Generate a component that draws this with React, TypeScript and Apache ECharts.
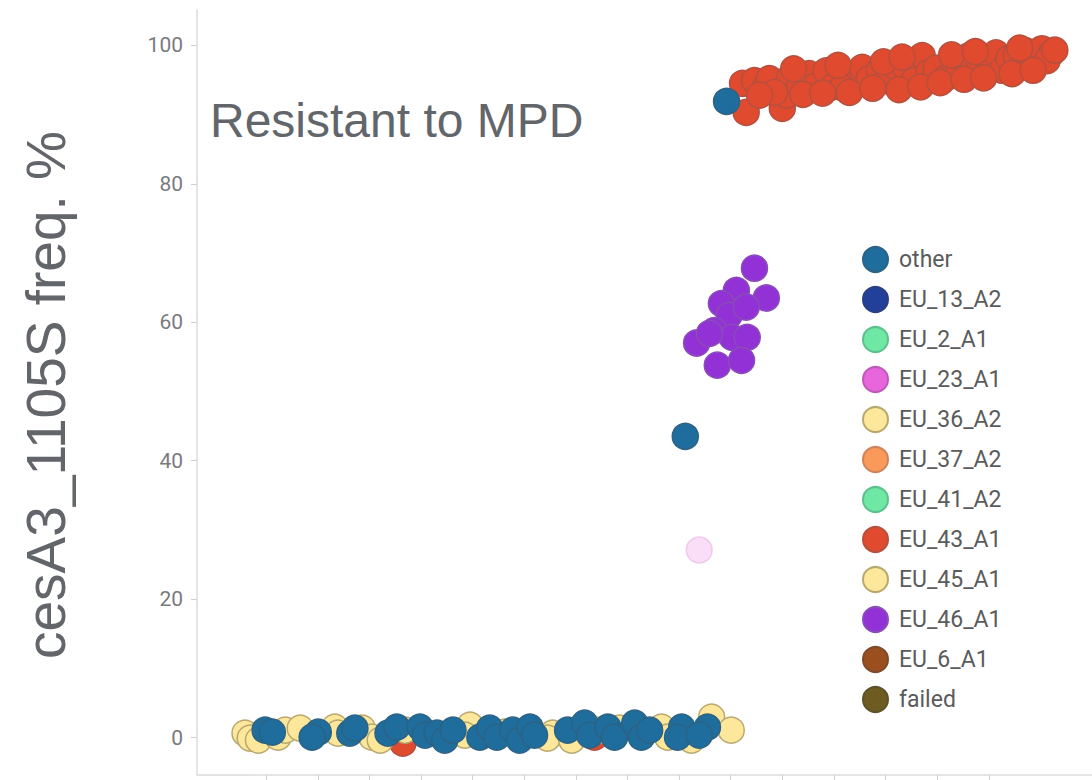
import React, { useEffect, useRef } from "react";
import * as echarts from "echarts";

// x: sample rank (ticks every 10), y: cesA3_1105S frequency %
const yTicks = [0, 20, 40, 60, 80, 100];
const xTicks = [0, 10, 20, 30, 40, 50, 60, 70, 80, 90, 100, 110, 120, 130, 140];

const legendNames = [
  "other", "EU_13_A2", "EU_2_A1", "EU_23_A1", "EU_36_A2", "EU_37_A2",
  "EU_41_A2", "EU_43_A1", "EU_45_A1", "EU_46_A1", "EU_6_A1", "failed",
];

const otherData = [
  [-0.2, 1.08], [1.2, 0.79], [10.1, 0.79], [8.9, 0.07], [16.2, 0.65], [17.2, 1.37],
  [23.6, 0.65], [25.3, 1.52], [29.8, 1.52], [30.8, 0.36], [33.1, 0.65], [34.6, -0.36],
  [36.2, 1.08], [41.4, 0.07], [43.3, 1.37], [44.7, 0.07], [47.8, 1.08], [49.1, -0.36],
  [51.1, 1.52], [52.0, 0.36], [58.4, 1.08], [61.7, 2.09], [62.7, 0.36], [66.2, 1.52],
  [67.5, 0.07], [71.4, 2.09], [72.7, 0.07], [74.3, 1.08], [80.5, 1.52], [79.7, 0.07],
  [85.5, 1.52], [83.9, 0.36],
  [81.2, 43.5], [89.2, 91.9],
];

const eu36Data = [
  [-4.1, 0.65], [-3.1, -0.07], [-1.5, -0.36], [2.3, 0.07], [3.7, 1.08], [6.6, 1.37],
  [13.3, 1.52], [13.9, 0.65], [18.6, 1.37], [20.5, 0.07], [22.1, -0.36], [26.9, 1.08],
  [39.5, 1.8], [38.5, 0.36],
];

const eu45Data = [
  [46.2, 0.79], [55.5, 0.65], [54.5, -0.07], [59.2, -0.36], [64.6, 1.08], [68.5, 1.37],
  [76.6, 1.52], [77.8, 0.07], [82.4, -0.36], [86.3, 2.96], [90.1, 1.08],
];

const eu23Data = [[83.9, 27.1]];

const eu46Data = [
  [94.6, 67.8], [91.1, 64.6], [96.9, 63.5], [88.2, 62.7], [89.7, 61.0], [93.0, 62.2],
  [86.8, 58.8], [90.3, 57.8], [93.2, 57.8], [83.4, 57.0], [87.4, 53.8], [92.1, 54.5],
  [85.9, 58.4],
];

const eu43Data = [
  [93.0, 90.3], [100.0, 90.9], [92.3, 94.5], [94.6, 94.9], [96.9, 94.2], [97.5, 95.2],
  [100.8, 92.8], [101.4, 95.3], [103.4, 94.2], [105.2, 95.9], [106.6, 94.2], [108.5, 96.3],
  [109.7, 94.0], [112.4, 95.9], [114.3, 94.5], [115.5, 96.8], [116.8, 95.2], [118.8, 96.3],
  [120.1, 94.9], [121.7, 97.0], [124.0, 96.7], [125.5, 94.9], [127.1, 98.5], [128.4, 96.1],
  [129.8, 96.7], [131.7, 95.3], [133.3, 97.5], [134.2, 96.4], [136.2, 98.5], [138.1, 96.7],
  [140.0, 97.6], [141.4, 98.9], [142.6, 96.4], [143.9, 98.1], [145.3, 98.5], [146.8, 97.0],
  [147.2, 99.2], [149.1, 98.1], [150.3, 99.5], [152.2, 98.9], [151.3, 97.8], [98.5, 93.2],
  [111.6, 93.9], [95.6, 92.8],
  [104.0, 92.9], [107.8, 93.1], [113.0, 93.2], [117.5, 93.8], [122.6, 93.6], [126.8, 94.0],
  [130.6, 94.6], [135.2, 95.1], [139.0, 95.3], [144.5, 95.9], [148.6, 96.4], [102.2, 96.6],
  [110.8, 97.1], [119.6, 97.6], [123.2, 98.3], [132.8, 98.6], [137.4, 99.1], [146.0, 99.6],
  [152.8, 99.3],
];

const eu43LowData = [[26.5, -0.8], [63.6, 0.07]];

const colors: Record<string, [string, string]> = {
  other: ["#1f6d9c", "#2c6284"],
  EU_13_A2: ["#223f9a", "#2a3f80"],
  EU_2_A1: ["#6fe8a6", "#5cc08c"],
  EU_23_A1: ["#e766dc", "#c058b8"],
  EU_36_A2: ["#fde79b", "#b9a86e"],
  EU_37_A2: ["#f99a5b", "#d0825a"],
  EU_41_A2: ["#6fe8a6", "#5cc08c"],
  EU_43_A1: ["#e04a2f", "#b5503e"],
  EU_45_A1: ["#fde79b", "#b9a86e"],
  EU_46_A1: ["#9231d6", "#8a4cb8"],
  EU_6_A1: ["#9b4f1f", "#7e4a2a"],
  failed: ["#6d5b21", "#5e5228"],
};

const dataByName: Record<string, number[][]> = {
  other: otherData,
  EU_13_A2: [],
  EU_2_A1: [],
  EU_23_A1: eu23Data,
  EU_36_A2: eu36Data,
  EU_37_A2: [],
  EU_41_A2: [],
  EU_43_A1: eu43Data,
  EU_45_A1: eu45Data,
  EU_46_A1: eu46Data,
  EU_6_A1: [],
  failed: [],
};

const zByName: Record<string, number> = {
  other: 4, EU_36_A2: 3, EU_45_A1: 3, EU_43_A1: 3, EU_46_A1: 3, EU_23_A1: 2,
};

export default function App() {
  const ref = useRef<HTMLDivElement>(null);
  useEffect(() => {
    if (!ref.current) return;
    const chart = echarts.init(ref.current, undefined, { renderer: "svg" });
    const mkStyle = (n: string) => ({
      color: colors[n][0],
      borderColor: colors[n][1],
      borderWidth: 1.5,
      opacity: 1,
    });
    const series: any[] = legendNames.map((n) => ({
      name: n,
      type: "scatter",
      symbol: "circle",
      symbolSize: 26,
      z: zByName[n] ?? 2,
      itemStyle: mkStyle(n),
      data: dataByName[n].map((v) =>
        n === "EU_23_A1" ? { value: v, itemStyle: { opacity: 0.22 } } : v
      ),
      emphasis: { disabled: true },
    }));
    series.push({
      name: "EU_43_A1",
      type: "scatter",
      symbol: "circle",
      symbolSize: 26,
      z: 1,
      itemStyle: mkStyle("EU_43_A1"),
      data: eu43LowData,
    });
    chart.setOption({
      animation: false,
      textStyle: { fontFamily: "Roboto" },
      grid: { left: 197, right: 0, top: 10, bottom: 5, containLabel: false },
      xAxis: {
        type: "value",
        min: -13.4,
        max: 160,
        axisLine: { show: true, onZero: false, lineStyle: { color: "#dcdcdc", width: 1.5 } },
        axisTick: { show: true, customValues: xTicks, length: 6, lineStyle: { color: "#d0d0d0" } },
        axisLabel: { show: false },
        splitLine: { show: false },
      },
      yAxis: {
        type: "value",
        min: -5.4,
        max: 105.1,
        axisLine: { show: true, onZero: false, lineStyle: { color: "#dcdcdc", width: 1.5 } },
        axisTick: { show: true, customValues: yTicks, length: 6, lineStyle: { color: "#d0d0d0" } },
        axisLabel: {
          customValues: yTicks,
          color: "#7a7a7e",
          fontSize: 21,
          margin: 14,
          fontFamily: "Roboto",
        },
        splitLine: { show: false },
      },
      legend: {
        data: legendNames.map((n) => ({ name: n, icon: "circle" })),
        orient: "vertical",
        left: 862,
        top: 246,
        padding: 0,
        itemWidth: 25,
        itemHeight: 25,
        itemGap: 13,
        textStyle: {
          color: "#5b5b5b",
          fontSize: 23,
          lineHeight: 25,
          fontFamily: "Roboto",
          padding: [0, 0, 0, 6],
        },
        selectedMode: false,
      },
      graphic: [
        {
          type: "text",
          x: 210,
          y: 120,
          style: {
            text: "Resistant to MPD",
            fill: "#62656a",
            fontSize: 48,
            fontFamily: "Liberation Sans",
            textAlign: "left",
            textVerticalAlign: "middle",
          },
        },
        {
          type: "text",
          x: 46,
          y: 395,
          rotation: Math.PI / 2,
          style: {
            text: "cesA3_1105S freq. %",
            fill: "#62656a",
            fontSize: 55,
            fontFamily: "Liberation Sans",
            textAlign: "center",
            textVerticalAlign: "middle",
          },
        },
      ],
      series,
    });
    return () => chart.dispose();
  }, []);
  return (
    <div
      ref={ref}
      style={{ position: "fixed", left: 0, top: 0, width: 1092, height: 780, background: "#fff" }}
    />
  );
}
